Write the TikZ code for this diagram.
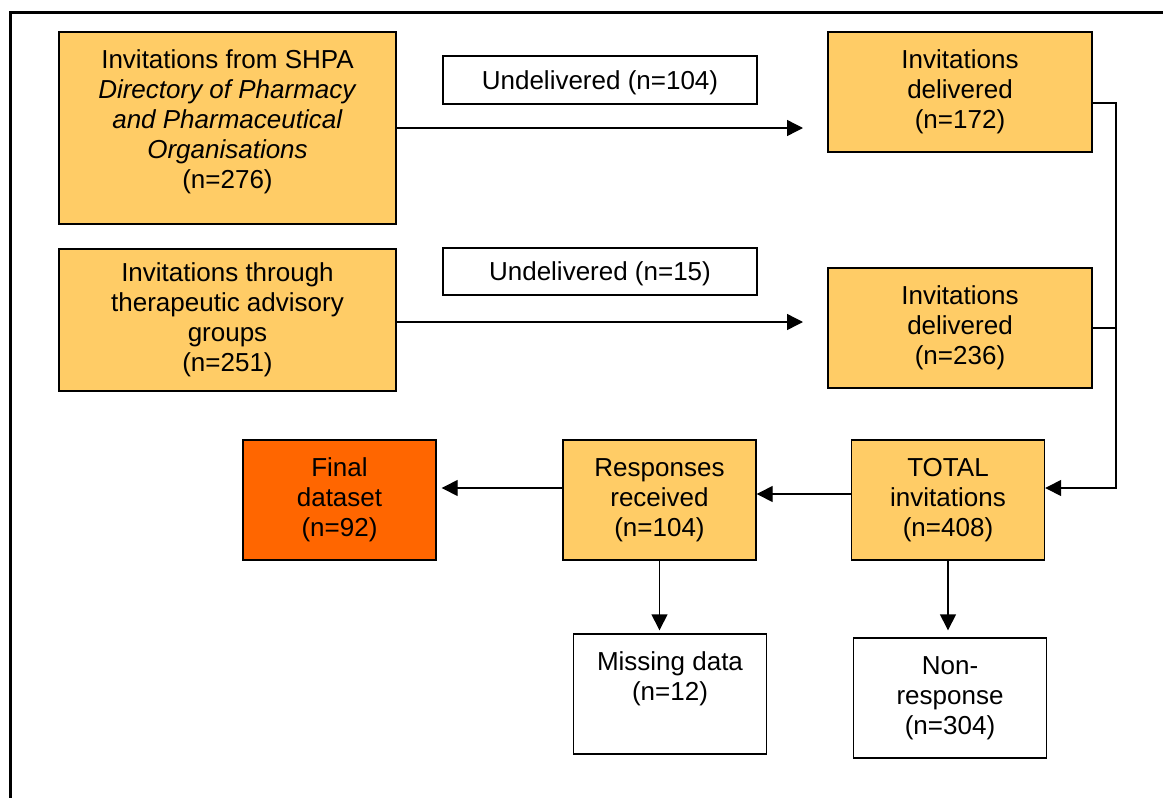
\documentclass[tikz,border=0pt]{standalone}
\usepackage{fontspec}
\setmainfont{Liberation Sans}
\usetikzlibrary{arrows.meta}
\definecolor{boxorange}{HTML}{FFCC66}
\definecolor{finalorange}{HTML}{FF6600}
\begin{document}
\begin{tikzpicture}[x=0.5pt, y=-0.5pt,
	main/.style = {draw, line width=0.7pt, fill=boxorange, align=center, inner sep=0pt, font=\fontsize{13}{15}\selectfont},
	note/.style = {main, fill=white},
	small/.style = {minimum width=96.5pt, minimum height=60pt},
	arr/.style = {line width=0.7pt, -{Triangle[length=8pt,width=8pt]}}]
		\useasboundingbox (0,0) rectangle (1163,798);
		% Rahmen
		\draw[line width=1.5pt] (10,798) -- (10,12) -- (1163,12);
		% Laatikot
		\node[main, minimum width=168.5pt, minimum height=96pt, text depth=9pt] (shpa) at (227.5,128) {Invitations from SHPA\\\textit{Directory of Pharmacy}\\\textit{and Pharmaceutical}\\\textit{Organisations}\\(n=276)};
		\node[note, minimum width=157pt, minimum height=24pt, text depth=0pt] (und1) at (600,80) {Undelivered (n=104)};
		\node[main, minimum width=132pt, minimum height=60pt] (del1) at (960,92) {Invitations\\delivered\\(n=172)};
		\node[main, minimum width=168.5pt, minimum height=71pt] (tag) at (227.5,320) {Invitations through\\therapeutic advisory\\groups\\(n=251)};
		\node[note, minimum width=157pt, minimum height=23.5pt, text depth=0pt] (und2) at (600,271.5) {Undelivered (n=15)};
		\node[main, minimum width=132pt, minimum height=60pt] (del2) at (960,328) {Invitations\\delivered\\(n=236)};
		\node[main, small, fill=finalorange] (final) at (339.5,500) {Final\\dataset\\(n=92)};
		\node[main, small] (resp) at (659.5,500) {Responses\\received\\(n=104)};
		\node[main, small] (total) at (948,500) {TOTAL\\invitations\\(n=408)};
		\node[note, small, text depth=18pt] (miss) at (670,694) {Missing data\\(n=12)};
		\node[note, small] (nonr) at (950,698) {Non-\\response\\(n=304)};
		% Vapaat paat
		\coordinate (tip1) at (803,128);
		\coordinate (tip2) at (803,322);
		\coordinate (bend) at (1116,488);
		% Nuolet
		\draw[arr] (shpa.east |- tip1) -- (tip1);
		\draw[arr] (tag.east |- tip2) -- (tip2);
		\draw[arr] ([yshift=-5.5pt]del1.east) -| (bend) -- (total.east |- bend);
		\draw[line width=0.7pt] (del2.east) -- (del2.east -| bend);
		\draw[arr] ([yshift=3pt]total.west) -- ([yshift=3pt]resp.east);
		\draw[arr, shorten >=2.5pt] ([yshift=6pt]resp.west) -- ([yshift=6pt]final.east);
		\draw[arr, shorten >=1.5pt] (resp.south) -- (resp.south |- miss.north);
		\draw[arr, shorten >=3.5pt] (total.south) -- (total.south |- nonr.north);
\end{tikzpicture}
\end{document}
